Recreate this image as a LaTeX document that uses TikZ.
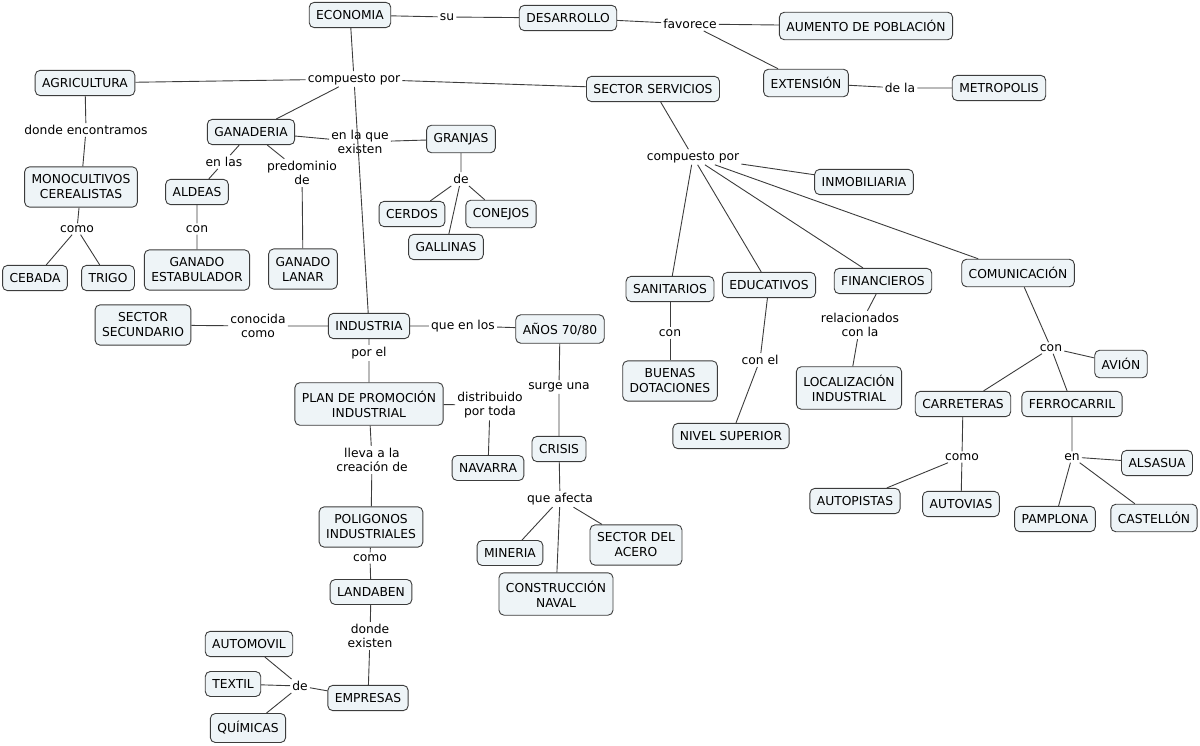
\documentclass[tikz,border=0pt]{standalone}
\usepackage{fontspec}
\setmainfont{DejaVu Sans}
\definecolor{boxfill}{HTML}{EEF4F7}
\definecolor{boxline}{HTML}{3C3C3C}
\begin{document}
\begin{tikzpicture}[x=1pt, y=-1pt,
    concept/.style={draw=boxline, line width=0.9pt, rounded corners=5pt, fill=boxfill, align=center, inner xsep=7pt, inner ysep=8pt, font=\fontsize{12.3}{15}\selectfont},
    phrase/.style={align=center, inner sep=2pt, font=\fontsize{12.3}{14.5}\selectfont},
    link/.style={draw=boxline, line width=0.9pt}]
    \useasboundingbox (0,0) rectangle (1200,746);

    % Top: economia and its development
    \node[concept] (eco) at (350,15) {ECONOMIA};
    \node[phrase] (su) at (447,17) {su};
    \node[concept] (desarrollo) at (568,18) {DESARROLLO};
    \node[phrase] (favorece) at (690,24) {favorece};
    \node[concept] (aumento) at (866,26) {AUMENTO DE POBLACIÓN};
    \node[concept] (extension) at (806,83) {EXTENSIÓN};
    \node[phrase] (dela) at (900,88) {de la};
    \node[concept] (metropolis) at (999,88) {METROPOLIS};
    \node[phrase] (comp1) at (354,79) {compuesto por};

    % Agricultura and ganaderia
    \node[concept] (agri) at (85,83) {AGRICULTURA};
    \node[phrase] (donde) at (86,130) {donde encontramos};
    \node[concept] (mono) at (81,187) {MONOCULTIVOS\\CEREALISTAS};
    \node[phrase] (como1) at (77,229) {como};
    \node[concept] (cebada) at (35,278) {CEBADA};
    \node[concept] (trigo) at (108,278) {TRIGO};
    \node[concept] (ganaderia) at (251,132) {GANADERIA};
    \node[phrase] (enlas) at (224,162) {en las};
    \node[concept] (aldeas) at (197,192) {ALDEAS};
    \node[phrase] (con1) at (197,229) {con};
    \node[concept] (estabulador) at (197,270) {GANADO\\ESTABULADOR};
    \node[phrase] (predominio) at (302,173) {predominio\\de};
    \node[concept] (lanar) at (303,269) {GANADO\\LANAR};
    \node[phrase] (enlaque) at (360,142) {en la que\\existen};
    \node[concept] (granjas) at (461,139) {GRANJAS};
    \node[phrase] (de1) at (461,179) {de};
    \node[concept] (cerdos) at (412,214) {CERDOS};
    \node[concept] (conejos) at (501,214) {CONEJOS};
    \node[concept] (gallinas) at (446,247) {GALLINAS};

    % Industria
    \node[concept] (secundario) at (143,325) {SECTOR\\SECUNDARIO};
    \node[phrase] (conocida) at (258,326) {conocida\\como};
    \node[concept] (industria) at (369,326) {INDUSTRIA};
    \node[phrase] (queenlos) at (463,326) {que en los};
    \node[concept] (anos) at (560,329) {AÑOS 70/80};
    \node[phrase] (porel) at (369,353) {por el};
    \node[concept] (plan) at (369,404) {PLAN DE PROMOCIÓN\\INDUSTRIAL};
    \node[phrase] (distribuido) at (490,405) {distribuido\\por toda};
    \node[concept] (navarra) at (488,468) {NAVARRA};
    \node[phrase] (surge) at (559,387) {surge una};
    \node[concept] (crisis) at (559,449) {CRISIS};
    \node[phrase] (afecta) at (560,499) {que afecta};
    \node[concept] (mineria) at (510,553) {MINERIA};
    \node[concept] (acero) at (636,545) {SECTOR DEL\\ACERO};
    \node[concept] (naval) at (556,594) {CONSTRUCCIÓN\\NAVAL};
    \node[phrase] (lleva) at (372,460) {lleva a la\\creación de};
    \node[concept] (poligonos) at (371,527) {POLIGONOS\\INDUSTRIALES};
    \node[phrase] (como2) at (370,558) {como};
    \node[concept] (landaben) at (371,592) {LANDABEN};
    \node[phrase] (existen) at (370,636) {donde\\existen};
    \node[concept] (empresas) at (368,698) {EMPRESAS};
    \node[phrase] (de2) at (300,686) {de};
    \node[concept] (automovil) at (249,644) {AUTOMOVIL};
    \node[concept] (textil) at (233,684) {TEXTIL};
    \node[concept] (quimicas) at (248,728) {QUÍMICAS};

    % Sector servicios
    \node[concept] (servicios) at (653,89) {SECTOR SERVICIOS};
    \node[phrase] (comp2) at (693,157) {compuesto por};
    \node[concept] (inmobiliaria) at (864,182) {INMOBILIARIA};
    \node[concept] (sanitarios) at (670,289) {SANITARIOS};
    \node[concept] (educativos) at (769,285) {EDUCATIVOS};
    \node[concept] (financieros) at (883,281) {FINANCIEROS};
    \node[concept] (comunicacion) at (1018,273) {COMUNICACIÓN};
    \node[phrase] (con2) at (670,333) {con};
    \node[concept] (dotaciones) at (670,381) {BUENAS\\DOTACIONES};
    \node[phrase] (conel) at (760,360) {con el};
    \node[concept] (superior) at (731,436) {NIVEL SUPERIOR};
    \node[phrase] (relacionados) at (860,325) {relacionados\\con la};
    \node[concept] (localizacion) at (849,388) {LOCALIZACIÓN\\INDUSTRIAL};
    \node[phrase] (con3) at (1051,348) {con};
    \node[concept] (avion) at (1121,364) {AVIÓN};
    \node[concept] (carreteras) at (963,404) {CARRETERAS};
    \node[concept] (ferrocarril) at (1072,404) {FERROCARRIL};
    \node[phrase] (como3) at (962,457) {como};
    \node[concept] (autopistas) at (855,501) {AUTOPISTAS};
    \node[concept] (autovias) at (961,504) {AUTOVIAS};
    \node[phrase] (en) at (1072,457) {en};
    \node[concept] (alsasua) at (1157,463) {ALSASUA};
    \node[concept] (pamplona) at (1055,519) {PAMPLONA};
    \node[concept] (castellon) at (1154,518) {CASTELLÓN};

    % Links
    \draw[link] (eco) -- (su) (su) -- (desarrollo) (desarrollo) -- (favorece)
        (favorece) -- (aumento) (favorece) -- (extension) (extension) -- (dela) (dela) -- (metropolis);
    \draw[link] (eco) -- (comp1) (comp1) -- (agri) (comp1) -- (servicios) (comp1) -- (ganaderia) (comp1) -- (industria);
    \draw[link] (agri) -- (donde) (donde) -- (mono) (mono) -- (como1) (como1) -- (cebada) (como1) -- (trigo);
    \draw[link] (ganaderia) -- (enlas) (enlas) -- (aldeas) (aldeas) -- (con1) (con1) -- (estabulador);
    \draw[link] (ganaderia) -- (predominio) (predominio) -- (lanar);
    \draw[link] (ganaderia) -- (enlaque) (enlaque) -- (granjas) (granjas) -- (de1)
        (de1) -- (cerdos) (de1) -- (conejos) (de1) -- (gallinas);
    \draw[link] (industria) -- (conocida) (conocida) -- (secundario);
    \draw[link] (industria) -- (queenlos) (queenlos) -- (anos) (anos) -- (surge) (surge) -- (crisis)
        (crisis) -- (afecta) (afecta) -- (mineria) (afecta) -- (acero) (afecta) -- (naval);
    \draw[link] (industria) -- (porel) (porel) -- (plan) (plan) -- (distribuido) (distribuido) -- (navarra);
    \draw[link] (plan) -- (lleva) (lleva) -- (poligonos) (poligonos) -- (como2) (como2) -- (landaben)
        (landaben) -- (existen) (existen) -- (empresas) (empresas) -- (de2)
        (de2) -- (automovil) (de2) -- (textil) (de2) -- (quimicas);
    \draw[link] (servicios) -- (comp2) (comp2) -- (inmobiliaria) (comp2) -- (sanitarios)
        (comp2) -- (educativos) (comp2) -- (financieros) (comp2) -- (comunicacion);
    \draw[link] (sanitarios) -- (con2) (con2) -- (dotaciones);
    \draw[link] (educativos) -- (conel) (conel) -- (superior);
    \draw[link] (financieros) -- (relacionados) (relacionados) -- (localizacion);
    \draw[link] (comunicacion) -- (con3) (con3) -- (avion) (con3) -- (carreteras) (con3) -- (ferrocarril);
    \draw[link] (carreteras) -- (como3) (como3) -- (autopistas) (como3) -- (autovias);
    \draw[link] (ferrocarril) -- (en) (en) -- (alsasua) (en) -- (pamplona) (en) -- (castellon);
\end{tikzpicture}
\end{document}
